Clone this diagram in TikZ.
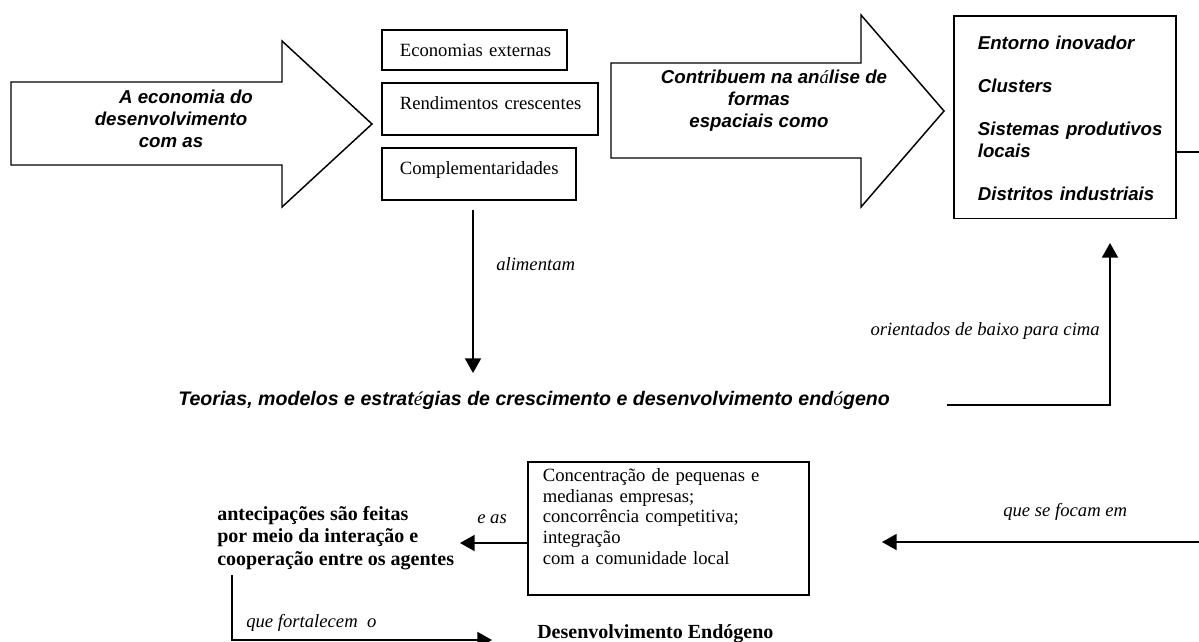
\documentclass[tikz,border=0pt]{standalone}
\usepackage{fontspec}
\setmainfont{Liberation Serif}
\newfontfamily\arialf{Liberation Sans}
\usetikzlibrary{arrows.meta}
\newcommand\acc[1]{{\rmfamily\mdseries\itshape #1}}
\begin{document}
\begin{tikzpicture}[x=0.75pt,y=-0.75pt,
  every node/.style={inner sep=0pt},
  sansbi/.style={font=\arialf\bfseries\itshape\fontsize{14}{16.5}\selectfont},
  lab/.style={font=\itshape\fontsize{14}{16}\selectfont},
  boldserif/.style={font=\bfseries\fontsize{15}{16.9}\selectfont},
  bigarrow/.style={draw, line width=1.1pt, line join=miter},
  sbox/.style={draw, line width=1.3pt, anchor=north west, inner sep=0pt, align=left, font=\fontsize{14}{16}\selectfont},
  conn/.style={line width=1.4pt},
  arr/.style={conn, -{Triangle[length=11pt,width=12pt]}},
]
\useasboundingbox (0,0) rectangle (1199,642);

% big arrows
\draw[bigarrow] (11,82) -- (282,82) -- (282,41) -- (372,124) -- (282,207) -- (282,165) -- (11,165) -- cycle;
\node[sansbi, align=center] (econ) at (171,119) {\hspace*{22.5pt}A economia do\\desenvolvimento\\com as};
\draw[bigarrow] (611,63) -- (861,63) -- (861,15) -- (944,111) -- (861,207) -- (861,158) -- (611,158) -- cycle;
\node[sansbi, align=center] (contrib) at (759,101) {\hspace*{22.5pt}Contribuem na an\acc{á}lise de\\formas\\espaciais como};

% small boxes
\node[sbox, text width=138.75pt, text height=20.25pt, text depth=9.75pt] (b1) at (381,29) {\hspace*{13.5pt}Economias externas};
\node[sbox, text width=162pt, text height=20.25pt, text depth=18.75pt] (b2) at (381,82) {\hspace*{13.5pt}Rendimentos crescentes};
\node[sbox, text width=145.5pt, text height=20.25pt, text depth=18.75pt] (b3) at (381,147) {\hspace*{13.5pt}Complementaridades};

% right box
\node[sbox, text width=166.5pt, font=\arialf\bfseries\itshape\fontsize{14}{16.125}\selectfont] (rbox) at (953,15)
 {\rule{0pt}{25.5pt}\hspace*{18pt}Entorno inovador\\[16.125pt]%
  \hspace*{18pt}Clusters\\[16.125pt]%
  \hspace*{18pt}Sistemas produtivos\\%
  \hspace*{18pt}locais\\[16.125pt]%
  \hspace*{18pt}Distritos industriais\rule[-13.5pt]{0pt}{0pt}};

% bottom box
\node[sbox, text width=210.75pt, font=\fontsize{14}{15.4}\selectfont] (cbox) at (527,461)
 {\rule{0pt}{15pt}\hspace*{11.25pt}Concentração de pequenas e\\%
  \hspace*{11.25pt}medianas empresas;\\%
  \hspace*{11.25pt}concorrência competitiva;\\%
  \hspace*{11.25pt}integração\\%
  \hspace*{11.25pt}com a comunidade local\rule[-23pt]{0pt}{0pt}};

% texts
\node[lab, anchor=base west] (alim) at (496,270) {alimentam};
\node[lab, anchor=base east] (orient) at (1100,335) {orientados de baixo para cima};
\node[sansbi, font=\arialf\bfseries\itshape\fontsize{14.7}{17}\selectfont, anchor=base west] (teor) at (178,405) {Teorias, modelos e estrat\acc{é}gias de crescimento e desenvolvimento end\acc{ó}geno};
\node[lab, anchor=base west] (eas) at (477,523) {e as};
\node[lab, anchor=base west] (focam) at (1003,516) {que se focam em};
\node[boldserif, align=left, anchor=north west] (antec) at (217,506) {antecipações são feitas\\por meio da interação e\\cooperação entre os agentes};
\node[lab, anchor=base west] (fort) at (246,627) {que fortalecem\ \ o};
\node[boldserif, anchor=base west] (desenv) at (537,638) {Desenvolvimento Endógeno};

% connectors
\coordinate (a1) at (473,210);
\coordinate (a2) at (473,373);
\draw[arr] (a1) -- (a2);
\coordinate (t1) at (947,405);
\coordinate (t2) at (1110,243);
\draw[arr] (t1) -| (t2);
\coordinate (r0) at (0,152);
\coordinate (f1) at (882,542);
\draw[arr] (rbox.east |- r0) -- (1206,152) |- (f1);
\coordinate (e2) at (460,543);
\draw[arr] (cbox.west |- e2) -- (e2);
\coordinate (q1) at (232,575);
\coordinate (q2) at (492,640);
\draw[arr] (q1) |- (q2);
\end{tikzpicture}
\end{document}
